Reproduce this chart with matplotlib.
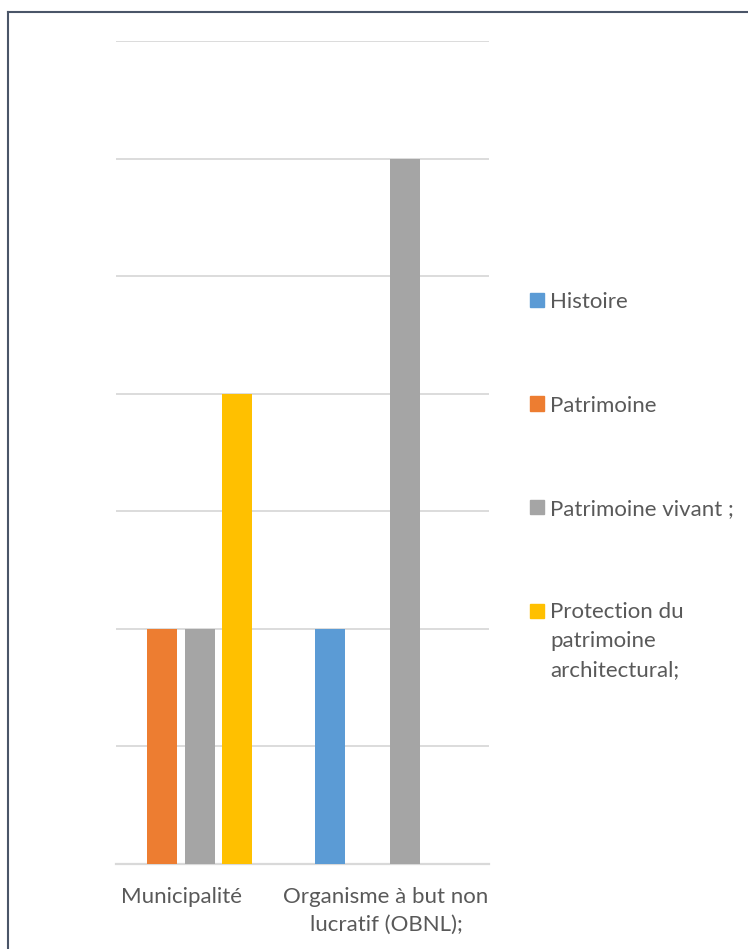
import matplotlib
matplotlib.use("Agg")
import matplotlib.pyplot as plt
import numpy as np
from matplotlib.patches import Rectangle
from matplotlib.lines import Line2D

plt.rcParams['font.family'] = ['Lato', 'DejaVu Sans']

categories = ["Municipalité", "Organisme à but non\nlucratif (OBNL);"]
series_names = ["Histoire", "Patrimoine", "Patrimoine vivant ;",
                "Protection du\npatrimoine\narchitectural;"]
histoire = [0, 2]
patrimoine = [2, 0]
patrimoine_vivant = [2, 6]
protection = [4, 0]
series_values = [histoire, patrimoine, patrimoine_vivant, protection]
colors = ["#5b9bd5", "#ed7d31", "#a5a5a5", "#ffc000"]

W, H = 748, 949
fig = plt.figure(figsize=(W / 100, H / 100), dpi=100)
ax = fig.add_axes([116 / W, (H - 864) / H, (489 - 116) / W, (864 - 41) / H])

x = np.arange(len(categories))
slot = 0.1825
bw = 0.146
for i, (vals, c) in enumerate(zip(series_values, colors)):
    ax.bar(x + (i - 1.5) * slot, vals, width=bw, color=c, zorder=3)

ax.set_xlim(-0.317, 1.502)
ax.set_ylim(0, 7)
ax.set_yticks(range(0, 8))
ax.yaxis.grid(True, color="#d9d9d9", linewidth=1.3, zorder=0)
ax.tick_params(axis='y', left=False, labelleft=False)
ax.tick_params(axis='x', bottom=False, pad=13, labelsize=16, labelcolor="#595959")
ax.set_xticks(x)
ax.set_xticklabels(categories, linespacing=1.5)
for s in ["top", "right", "left"]:
    ax.spines[s].set_visible(False)
ax.spines["bottom"].set_color("#d9d9d9")
ax.spines["bottom"].set_linewidth(1.6)

# legend, drawn by hand to mimic spacing
y0, step = 300, 103.5
for i, (name, c) in enumerate(zip(series_names, colors)):
    yc = y0 + i * step
    fig.patches.append(Rectangle((530 / W, (H - yc - 7) / H), 14 / W, 14 / H,
                                 transform=fig.transFigure, color=c))
    fig.text(550 / W, (H - yc + 8) / H, name, fontsize=16, color="#595959",
             va="top", ha="left", linespacing=1.55)

# outer border
fig.add_artist(Line2D([8 / W, 1], [(H - 12) / H] * 2, color="#4a5568", lw=1.5))
fig.add_artist(Line2D([8 / W] * 2, [0, (H - 12) / H], color="#4a5568", lw=1.5))

fig.savefig("out.png", dpi=100)
